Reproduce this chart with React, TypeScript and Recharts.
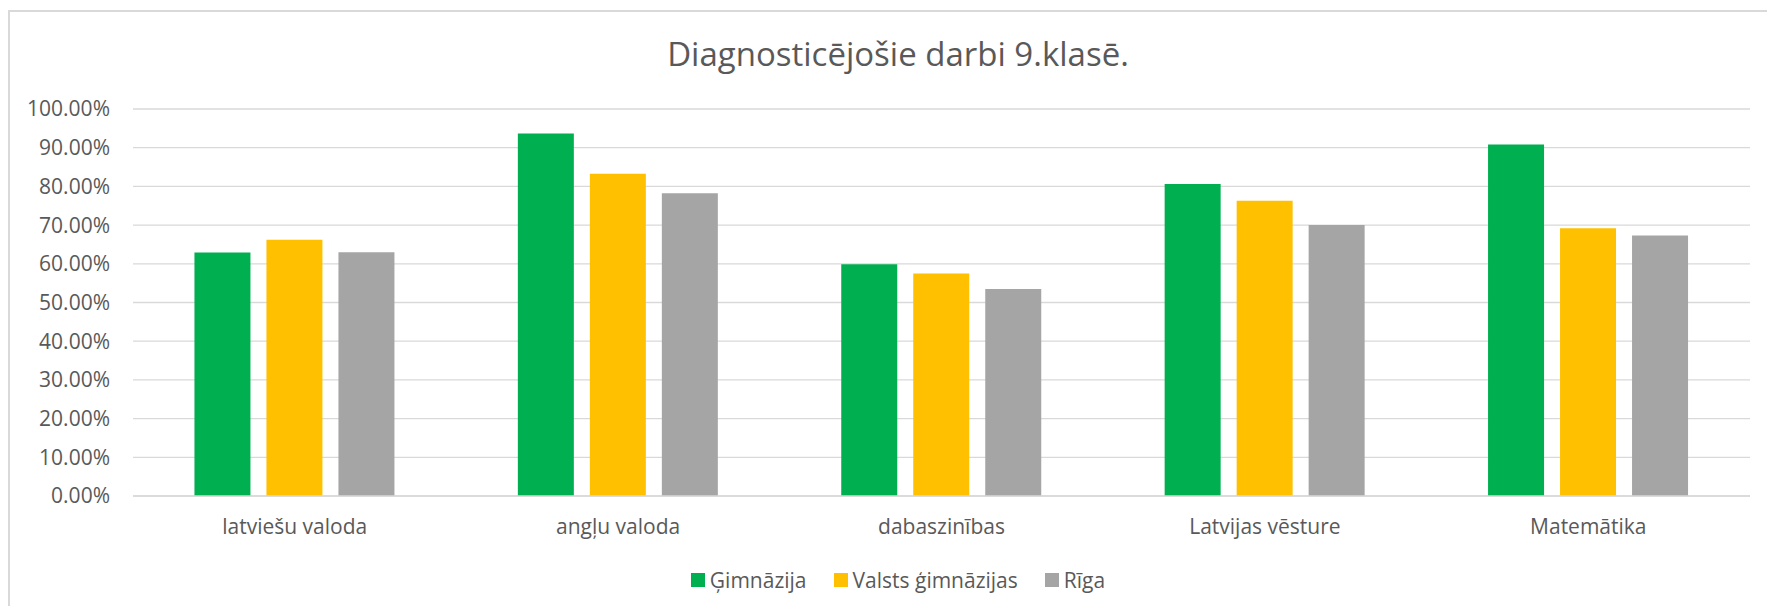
import { Bar, BarChart, CartesianGrid, Legend, XAxis, YAxis } from 'recharts';

const subjects = ['latviešu valoda', 'angļu valoda', 'dabaszinības', 'Latvijas vēsture', 'Matemātika'];
const gimnazija = [0.629, 0.937, 0.599, 0.806, 0.908];
const valstsGimnazijas = [0.662, 0.833, 0.575, 0.763, 0.692];
const riga = [0.63, 0.782, 0.535, 0.7, 0.673];
const yTicks = [0, 0.1, 0.2, 0.3, 0.4, 0.5, 0.6, 0.7, 0.8, 0.9, 1];

const series = [
  { key: 'gimnazija', name: 'Ģimnāzija', color: '#00B050' },
  { key: 'valsts', name: 'Valsts ģimnāzijas', color: '#FFC000' },
  { key: 'riga', name: 'Rīga', color: '#A5A5A5' },
];

const data = subjects.map((name, i) => ({
  name,
  gimnazija: gimnazija[i],
  valsts: valstsGimnazijas[i],
  riga: riga[i],
}));

const font = '"Open Sans", sans-serif';
const textColor = '#595959';

const renderLegend = () => (
  <div
    style={{
      display: 'flex',
      justifyContent: 'center',
      gap: 27,
      fontFamily: font,
      fontSize: 21,
      color: textColor,
    }}
  >
    {series.map((s) => (
      <span key={s.key} style={{ display: 'flex', alignItems: 'center' }}>
        <span style={{ width: 14, height: 14, background: s.color, marginRight: 5 }} />
        {s.name}
      </span>
    ))}
  </div>
);

const App = () => {
  return (
    <div style={{ position: 'relative', width: 1767, height: 598, overflow: 'hidden' }}>
      <div
        style={{
          position: 'absolute',
          left: 0,
          top: 2,
          width: 1800,
          height: 700,
          borderLeft: '2px solid #d9d9d9',
          borderTop: '2px solid #d9d9d9',
        }}
      />
      <div
        style={{
          position: 'absolute',
          left: 0,
          top: 28,
          width: 1780,
          textAlign: 'center',
          fontFamily: font,
          fontSize: 33,
          lineHeight: '36px',
          color: textColor,
        }}
      >
        Diagnosticējošie darbi 9.klasē.
      </div>
      <BarChart
        width={1767}
        height={598}
        data={data}
        margin={{ top: 101, right: 25, left: 0, bottom: 32 }}
        barCategoryGap="19%"
        barGap={16}
      >
        <CartesianGrid vertical={false} stroke="#d9d9d9" strokeWidth={1.3} />
        <XAxis
          dataKey="name"
          height={50}
          tickLine={false}
          axisLine={{ stroke: '#d9d9d9', strokeWidth: 1.3 }}
          tickSize={0}
          tickMargin={23}
          tick={{ fill: textColor, fontSize: 21, fontFamily: font }}
        />
        <YAxis
          width={125}
          domain={[0, 1]}
          ticks={yTicks}
          axisLine={false}
          tickLine={false}
          tickSize={0}
          tickMargin={23}
          tick={{ fill: textColor, fontSize: 21, fontFamily: font }}
          tickFormatter={(v) => `${(v * 100).toFixed(2)}%`}
        />
        <Legend
          verticalAlign="bottom"
          content={renderLegend}
          wrapperStyle={{ left: 0, width: 1780, top: 558 }}
        />
        {series.map((s) => (
          <Bar key={s.key} dataKey={s.key} name={s.name} fill={s.color} isAnimationActive={false} />
        ))}
      </BarChart>
    </div>
  );
};

export default App;
